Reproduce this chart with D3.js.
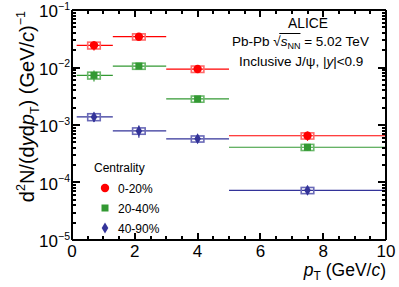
<!DOCTYPE html>
<head>
<meta charset="utf-8">
<script src="https://d3js.org/d3.v7.min.js"></script>
<style>
  body { margin: 0; background: #fff; }
  text { font-family: "Liberation Sans", Arial, sans-serif; fill: #000; }
  .frame line { stroke: #000; stroke-width: 1.2px; shape-rendering: crispEdges; }
</style>
</head>
<body>
<script>
// bins in pT (GeV/c)
var binLo = [0.15, 1.3, 3, 5];
var binHi = [1.3, 3, 5, 10];
var ptMean = [0.7, 2.13, 4.0, 7.5];

var centralities = ["0-20%", "20-40%", "40-90%"];
var yield0_20 = [0.0243, 0.0343, 0.0094, 6.5e-4];
var yield20_40 = [0.0073, 0.0106, 0.00284, 4.1e-4];
var yield40_90 = [1.38e-3, 7.9e-4, 5.75e-4, 7.3e-5];
var stat0_20 = [0.0045, 0.003, 0.0008, 1.2e-4];
var stat20_40 = [0.0016, 0.0008, 0.0002, 5e-5];
var stat40_90 = [2.5e-4, 1.9e-4, 6e-5, 1.1e-5];
var sys0_20 = [0.0033, 0.0042, 0.0012, 8e-5];
var sys20_40 = [0.001, 0.0013, 0.00035, 5e-5];
var sys40_90 = [1.9e-4, 1.0e-4, 7e-5, 9e-6];

var yTickExp = [-5, -4, -3, -2, -1];
var xTicks = [0, 2, 4, 6, 8, 10];

var width = 399, height = 287;
var mLeft = 72, mRight = 386, mTop = 10, mBottom = 240;

var x = d3.scaleLinear().domain([0, 10]).range([mLeft, mRight]);
var y = d3.scaleLog().domain([1e-5, 1e-1]).range([mBottom, mTop]);

var svg = d3.select("body").append("svg")
    .attr("width", width)
    .attr("height", height);

var series = [
  {name: centralities[0], color: "#ff0000", sys: "#ff6a6a", val: yield0_20, stat: stat0_20, sysErr: sys0_20, marker: "circle"},
  {name: centralities[1], color: "#339933", sys: "#6ab86a", val: yield20_40, stat: stat20_40, sysErr: sys20_40, marker: "square"},
  {name: centralities[2], color: "#333399", sys: "#6a6ab8", val: yield40_90, stat: stat40_90, sysErr: sys40_90, marker: "diamond"}
];

function drawMarker(g, type, cx, cy, color) {
  if (type == "circle") {
    g.append("circle").attr("cx", cx).attr("cy", cy).attr("r", 4.2).attr("fill", color);
  } else if (type == "square") {
    g.append("rect").attr("x", cx - 3.5).attr("y", cy - 3.5).attr("width", 7).attr("height", 7).attr("fill", color);
  } else {
    g.append("path")
      .attr("d", "M" + cx + "," + (cy - 5.5) + "L" + (cx + 3.3) + "," + cy + "L" + cx + "," + (cy + 5.5) + "L" + (cx - 3.3) + "," + cy + "Z")
      .attr("fill", color);
  }
}

// data
var plot = svg.append("g");
series.forEach(function(s) {
  var g = plot.append("g");
  s.val.forEach(function(v, i) {
    var cx = x(ptMean[i]), cy = y(v);
    // bin width line
    g.append("line")
      .attr("x1", x(binLo[i])).attr("x2", x(binHi[i]))
      .attr("y1", cy).attr("y2", cy)
      .attr("stroke", s.color).attr("stroke-width", 1.2);
    // systematic box
    var bx0 = x(ptMean[i] - 0.2), bx1 = x(ptMean[i] + 0.2);
    var by0 = y(v + s.sysErr[i]), by1 = y(v - s.sysErr[i]);
    g.append("rect")
      .attr("x", bx0).attr("y", by0)
      .attr("width", bx1 - bx0).attr("height", by1 - by0)
      .attr("fill", "none").attr("stroke", s.sys).attr("stroke-width", 1.6);
    // stat error
    g.append("line")
      .attr("x1", cx).attr("x2", cx)
      .attr("y1", y(v + s.stat[i])).attr("y2", y(v - s.stat[i]))
      .attr("stroke", s.color).attr("stroke-width", 1.2);
    drawMarker(g, s.marker, cx, cy, s.color);
  });
});

// frame and ticks
var frame = svg.append("g").attr("class", "frame");
frame.append("line").attr("x1", mLeft).attr("x2", mRight).attr("y1", mBottom).attr("y2", mBottom);
frame.append("line").attr("x1", mLeft).attr("x2", mRight).attr("y1", mTop).attr("y2", mTop);
frame.append("line").attr("x1", mLeft).attr("x2", mLeft).attr("y1", mTop).attr("y2", mBottom);
frame.append("line").attr("x1", mRight).attr("x2", mRight).attr("y1", mTop).attr("y2", mBottom);

var xMinor = d3.range(0, 10.01, 0.5);
xMinor.forEach(function(t) {
  var major = Math.abs(t % 2) < 1e-6;
  var len = major ? 7 : 4;
  var px = Math.round(x(t));
  frame.append("line").attr("x1", px).attr("x2", px).attr("y1", mBottom).attr("y2", mBottom - len);
  frame.append("line").attr("x1", px).attr("x2", px).attr("y1", mTop).attr("y2", mTop + len);
});

yTickExp.forEach(function(e) {
  if (e < -1) {
    for (var m = 2; m <= 9; m++) {
      var py = Math.round(y(m * Math.pow(10, e)));
      frame.append("line").attr("x1", mLeft).attr("x2", mLeft + 4).attr("y1", py).attr("y2", py);
      frame.append("line").attr("x1", mRight).attr("x2", mRight - 4).attr("y1", py).attr("y2", py);
    }
  }
  var py = Math.round(y(Math.pow(10, e)));
  frame.append("line").attr("x1", mLeft).attr("x2", mLeft + 8).attr("y1", py).attr("y2", py);
  frame.append("line").attr("x1", mRight).attr("x2", mRight - 8).attr("y1", py).attr("y2", py);
});

// tick labels
svg.append("g").selectAll("text")
  .data(xTicks).enter().append("text")
  .attr("x", function(d) { return x(d); })
  .attr("y", 257)
  .attr("text-anchor", "middle")
  .style("font-size", "17px")
  .text(function(d) { return d; });

var yl = svg.append("g").selectAll("text")
  .data(yTickExp).enter().append("text")
  .attr("x", 70)
  .attr("y", function(d) { return y(Math.pow(10, d)) + 7; })
  .attr("text-anchor", "end");
yl.append("tspan").style("font-size", "17px").text("10");
yl.append("tspan").attr("dy", -7.5).style("font-size", "10.5px").text(function(d) { return "\u2212" + (-d); });

// axis titles
var xt = svg.append("text")
  .attr("x", mRight).attr("y", 276)
  .attr("text-anchor", "end")
  .style("font-size", "17.5px");
xt.append("tspan").style("font-style", "italic").text("p");
xt.append("tspan").attr("dy", 4).style("font-size", "12px").text("T");
xt.append("tspan").attr("dy", -4).text(" (GeV/");
xt.append("tspan").style("font-style", "italic").text("c");
xt.append("tspan").text(")");

var ytl = svg.append("text")
  .attr("transform", "translate(34,11) rotate(-90)")
  .attr("text-anchor", "end")
  .style("font-size", "20px");
ytl.append("tspan").text("d");
ytl.append("tspan").attr("dy", -9).style("font-size", "12.5px").text("2");
ytl.append("tspan").attr("dy", 9).text("N/(d");
ytl.append("tspan").style("font-style", "italic").text("y");
ytl.append("tspan").text("d");
ytl.append("tspan").style("font-style", "italic").text("p");
ytl.append("tspan").attr("dy", 5).style("font-size", "12.5px").text("T");
ytl.append("tspan").attr("dy", -5).text(") (GeV/");
ytl.append("tspan").style("font-style", "italic").text("c");
ytl.append("tspan").text(")");
ytl.append("tspan").attr("dy", -9).style("font-size", "12.5px").text("\u22121");

// annotations
svg.append("text").attr("x", 308).attr("y", 28).attr("text-anchor", "middle")
  .style("font-size", "13.8px").text("ALICE");

var pb = svg.append("text").attr("x", 232).attr("y", 46).style("font-size", "13.5px");
pb.append("tspan").text("Pb-Pb ");
pb.append("tspan").text("\u221A");
pb.append("tspan").style("font-style", "italic").text("s");
pb.append("tspan").attr("dy", 3).style("font-size", "9px").text("NN");
pb.append("tspan").attr("dy", -3).text(" = 5.02 TeV");
// overline of the radical
var sqStart = pb.node().getStartPositionOfChar(6).x;
var sqEnd = pb.node().getEndPositionOfChar(9).x;
svg.append("line").attr("x1", sqStart + 6).attr("x2", sqEnd)
  .attr("y1", 33.5).attr("y2", 33.5).attr("stroke", "#000").attr("stroke-width", 1);

var inc = svg.append("text").attr("x", 239).attr("y", 66).style("font-size", "13.5px");
inc.append("tspan").text("Inclusive J/\u03C8, |");
inc.append("tspan").style("font-style", "italic").text("y");
inc.append("tspan").text("|<0.9");

// legend
var legend = svg.append("g");
legend.append("text").attr("x", 94).attr("y", 172).style("font-size", "12px").text("Centrality");
series.forEach(function(s, i) {
  var ly = 188 + i * 20;
  drawMarker(legend, s.marker, 105, ly, s.color);
  legend.append("text").attr("x", 118).attr("y", ly + 4.5).style("font-size", "12px").text(s.name);
});
</script>
</body>
